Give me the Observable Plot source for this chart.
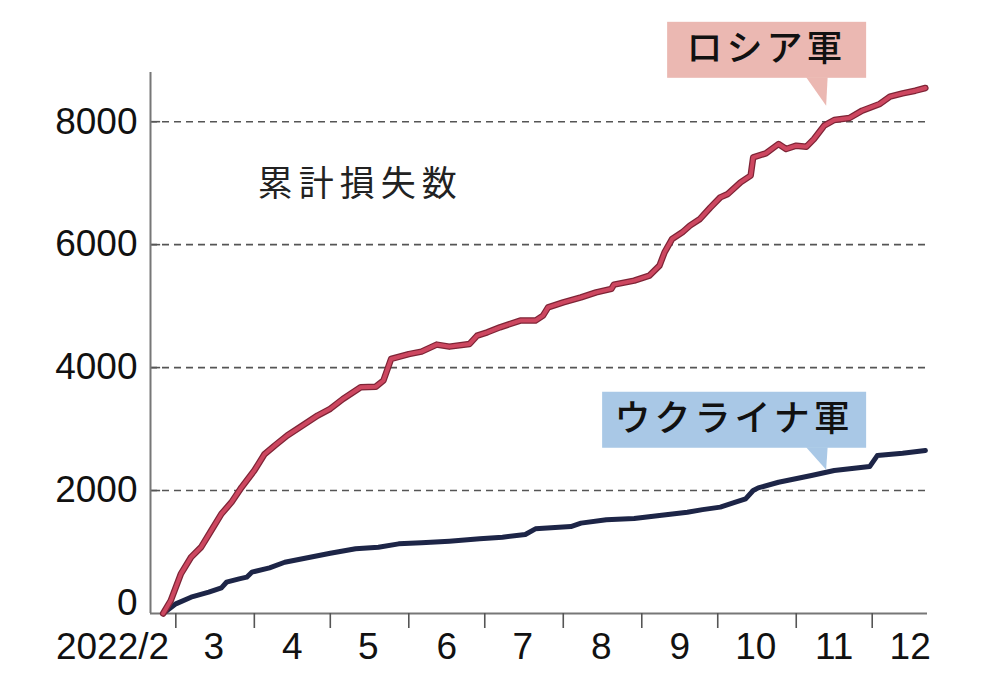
<!DOCTYPE html>
<html><head><meta charset="utf-8">
<script src="https://cdn.jsdelivr.net/npm/d3@7"></script>
<script src="https://cdn.jsdelivr.net/npm/@observablehq/plot@0.6"></script>
<style>
body{margin:0;background:#fff;}
svg{display:block;}
</style>
</head><body>
<div id="chart"></div>
<script>
// Russian army cumulative losses
const ruDates = ["2022-02-24","2022-02-27","2022-03-03","2022-03-07","2022-03-11","2022-03-15","2022-03-19","2022-03-23","2022-03-27","2022-04-01","2022-04-05","2022-04-09","2022-04-14","2022-04-20","2022-04-26","2022-05-01","2022-05-06","2022-05-13","2022-05-19","2022-05-22","2022-05-25","2022-06-01","2022-06-06","2022-06-12","2022-06-17","2022-06-25","2022-06-28","2022-07-02","2022-07-07","2022-07-15","2022-07-21","2022-07-24","2022-07-26","2022-08-01","2022-08-08","2022-08-14","2022-08-20","2022-08-21","2022-08-29","2022-09-04","2022-09-08","2022-09-10","2022-09-13","2022-09-17","2022-09-20","2022-09-24","2022-09-28","2022-10-02","2022-10-05","2022-10-10","2022-10-14","2022-10-15","2022-10-20","2022-10-25","2022-10-28","2022-11-01","2022-11-05","2022-11-08","2022-11-12","2022-11-16","2022-11-22","2022-11-27","2022-12-04","2022-12-08","2022-12-13","2022-12-18","2022-12-22"];
const ruValues = [0,210,645,915,1080,1350,1620,1810,2055,2325,2590,2730,2895,3057,3220,3330,3490,3680,3690,3790,4140,4220,4260,4374,4341,4385,4520,4574,4655,4764,4764,4845,4980,5062,5143,5224,5280,5350,5415,5496,5658,5875,6093,6200,6309,6418,6600,6769,6824,7013,7122,7420,7485,7637,7556,7610,7593,7718,7935,8027,8060,8179,8288,8407,8460,8504,8548];
// Ukrainian army cumulative losses
const uaDates = ["2022-02-24","2022-03-01","2022-03-07","2022-03-14","2022-03-19","2022-03-21","2022-03-26","2022-03-29","2022-03-31","2022-04-07","2022-04-13","2022-04-21","2022-05-01","2022-05-11","2022-05-20","2022-05-28","2022-06-06","2022-06-17","2022-06-29","2022-07-08","2022-07-17","2022-07-21","2022-08-04","2022-08-08","2022-08-18","2022-08-29","2022-09-08","2022-09-19","2022-09-25","2022-10-02","2022-10-08","2022-10-12","2022-10-15","2022-10-17","2022-10-25","2022-11-07","2022-11-16","2022-11-30","2022-12-03","2022-12-13","2022-12-22"];
const uaValues = [0,157,265,347,418,509,564,591,672,743,834,899,980,1052,1078,1133,1150,1176,1215,1241,1285,1377,1415,1470,1524,1545,1594,1647,1690,1730,1810,1865,2000,2044,2135,2244,2325,2390,2569,2606,2650];

const yTicks = [2000,4000,6000,8000];
const yZero = [0];
const monthTicks = ["2022-03-01","2022-04-01","2022-05-01","2022-06-01","2022-07-01","2022-08-01","2022-09-01","2022-10-01","2022-11-01","2022-12-01"];
const monthLabels = ["2022/2","3","4","5","6","7","8","9","10","11","12"];
const monthLabelDates = ["2022-02-04","2022-03-16","2022-04-16","2022-05-16","2022-06-16","2022-07-16","2022-08-16","2022-09-16","2022-10-16","2022-11-16","2022-12-16"];
const seriesNames = ["ロシア軍","ウクライナ軍"];
const subtitle = "累計損失数";

const P = s => new Date(s + "T00:00:00Z");
const ru = ruDates.map((d,i)=>({date:P(d), value:ruValues[i]}));
const ua = uaDates.map((d,i)=>({date:P(d), value:uaValues[i]}));
const xDomain = [P("2022-02-19"), new Date(Date.UTC(2022,11,22,20))];
const numFont = "'Liberation Sans', Arial, sans-serif";
const jpFont = "'Noto Sans CJK JP', sans-serif";

const plot = Plot.plot({
  width: 992, height: 684,
  marginLeft: 150, marginRight: 65, marginTop: 72, marginBottom: 71,
  x: {type: "utc", domain: xDomain, axis: null},
  y: {domain: [0, 8800], axis: null},
  style: {fontFamily: numFont, background: "#fff"},
  marks: [
    Plot.gridY(yTicks, {stroke: "#555", strokeOpacity: 1, strokeWidth: 1.6, strokeDasharray: "7,5"}),
    Plot.ruleY(yTicks, {x1: xDomain[0], x2: P("2022-02-23"), stroke: "#555", strokeWidth: 1.6}),
    Plot.ruleY([0], {stroke: "#777", strokeWidth: 2}),
    Plot.ruleX([xDomain[0]], {y1: 0, y2: 8800, stroke: "#777", strokeWidth: 2}),
    Plot.axisX(monthTicks.map(P), {tickSize: 15, tickFormat: () => "", stroke: "#555", strokeWidth: 1.6}),
    Plot.text(monthLabels, {x: (d,i) => P(monthLabelDates[i]), y: 0, text: d => d, dy: 34, fontSize: 37, fill: "#111", textAnchor: "middle"}),
    Plot.text(yTicks, {x: xDomain[0], y: d => d, text: d => String(d), dx: -13, textAnchor: "end", fontSize: 37, fill: "#111"}),
    Plot.text(yZero, {x: xDomain[0], y: d => d, text: d => String(d), dx: -13, dy: -10, textAnchor: "end", fontSize: 37, fill: "#111"}),
    Plot.line(ua, {x: "date", y: "value", stroke: "#1d2547", strokeWidth: 5, strokeLinejoin: "round", strokeLinecap: "round"}),
    Plot.line(ru, {x: "date", y: "value", stroke: "#7e2436", strokeWidth: 6.5, strokeLinejoin: "round", strokeLinecap: "round"}),
    Plot.line(ru, {x: "date", y: "value", stroke: "#cd4760", strokeWidth: 4, strokeLinejoin: "round", strokeLinecap: "round"})
  ]
});

document.getElementById("chart").appendChild(plot);

const sx = plot.scale("x"), sy = plot.scale("y");
const svg = d3.select(plot);

// subtitle
svg.append("text").attr("x", sx.apply(P("2022-05-13"))).attr("y", sy.apply(6930))
  .attr("text-anchor", "middle").attr("font-family", jpFont).attr("font-size", 35)
  .attr("letter-spacing", 6).attr("fill", "#222").attr("dominant-baseline", "middle").text(subtitle);

// callouts
const tipDate = P("2022-11-13");
const callouts = [
  {name: seriesNames[0], tipV: 8250, fill: "#ebb8b2", left: -159, top: -84, bottom: -28},
  {name: seriesNames[1], tipV: 2330, fill: "#a9c8e6", left: -224, top: -78, bottom: -22}
];
for (const c of callouts) {
  const tx = sx.apply(tipDate), ty = sy.apply(c.tipV);
  const g = svg.append("g");
  g.append("rect").attr("x", tx + c.left).attr("y", ty + c.top)
    .attr("width", 40 - c.left).attr("height", c.bottom - c.top).attr("fill", c.fill);
  g.append("path").attr("d", `M${tx-20},${ty + c.bottom - 0.5}L${tx+1.5},${ty + c.bottom - 0.5}L${tx},${ty}Z`).attr("fill", c.fill);
  g.append("text").attr("x", tx + (c.left + 40) / 2).attr("y", ty + (c.top + c.bottom) / 2 + 1)
    .attr("text-anchor", "middle").attr("dominant-baseline", "middle")
    .attr("font-family", jpFont).attr("font-size", 36).attr("font-weight", 500)
    .attr("letter-spacing", 4).attr("fill", "#111").text(c.name);
}
</script>
</body></html>
